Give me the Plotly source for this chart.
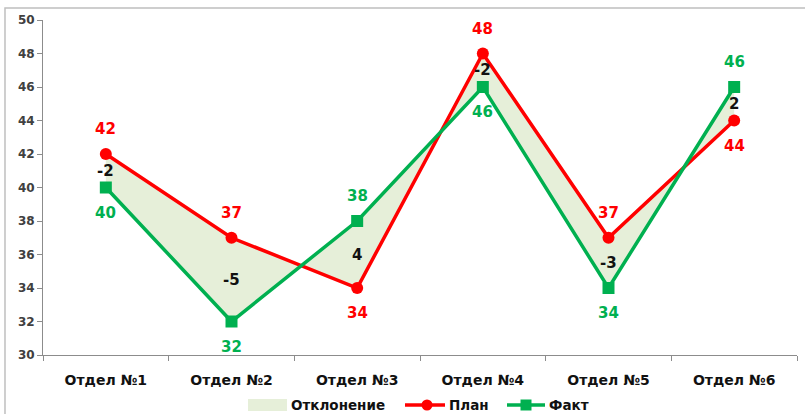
import plotly.graph_objects as go

categories = ["Отдел №1", "Отдел №2", "Отдел №3", "Отдел №4", "Отдел №5", "Отдел №6"]
plan = [42, 37, 34, 48, 37, 44]
fact = [40, 32, 38, 46, 34, 46]
legend_names = ["Отклонение", "План", "Факт"]

RED = "#FF0000"
GREEN = "#00B050"
FILL = "#E6EFD9"
FONT = "DejaVu Sans"

# plot area in pixels
L, R, T, B = 43, 797, 20, 355
W, H = 805, 414


def px(x):
    return (x - L) / (R - L)


def py(y):
    return (B - y) / (B - T)


fig = go.Figure()
fig.add_trace(go.Scatter(x=categories, y=fact, mode="lines", line=dict(width=0),
                         showlegend=False, hoverinfo="skip"))
fig.add_trace(go.Scatter(x=categories, y=plan, mode="lines", line=dict(width=0),
                         fill="tonexty", fillcolor=FILL, name=legend_names[0],
                         showlegend=False))
fig.add_trace(go.Scatter(x=categories, y=plan, mode="lines+markers", name=legend_names[1],
                         line=dict(color=RED, width=3.5), showlegend=False,
                         marker=dict(symbol="circle", size=12, color=RED)))
fig.add_trace(go.Scatter(x=categories, y=fact, mode="lines+markers", name=legend_names[2],
                         line=dict(color=GREEN, width=3.5), showlegend=False,
                         marker=dict(symbol="square", size=12, color=GREEN)))

annotations = []
for c, p, f in zip(categories, plan, fact):
    up = p >= f
    annotations.append(dict(x=c, y=p, text=str(p), showarrow=False,
                            yshift=25 if up else -25,
                            font=dict(family=FONT, size=15, color=RED, weight="bold")))
    annotations.append(dict(x=c, y=f, text=str(f), showarrow=False,
                            yshift=-25 if up else 25,
                            font=dict(family=FONT, size=15, color=GREEN, weight="bold")))
    annotations.append(dict(x=c, y=(p + f) / 2, text=str(f - p), showarrow=False,
                            font=dict(family=FONT, size=15, color="#111111", weight="bold")))

# manual legend
LEG_Y = 405
legend_font = dict(family=FONT, size=13.5, color="#111111", weight="bold")
shapes = [dict(type="rect", xref="paper", yref="paper",
               x0=-0.0504, x1=1.02, y0=-0.2, y1=1.0358,
               line=dict(color="#BFBFBF", width=1.5), fillcolor="rgba(0,0,0,0)")]
shapes.append(dict(type="rect", xref="paper", yref="paper",
                   x0=px(248), x1=px(287), y0=py(411), y1=py(399),
                   line=dict(width=0), fillcolor=FILL))
annotations.append(dict(xref="paper", yref="paper", x=px(289), y=py(LEG_Y),
                        xanchor="left", yanchor="middle", showarrow=False,
                        text=legend_names[0], font=legend_font))
# plan item
shapes.append(dict(type="line", xref="paper", yref="paper",
                   x0=px(405), x1=px(445), y0=py(LEG_Y), y1=py(LEG_Y),
                   line=dict(color=RED, width=3.5)))
shapes.append(dict(type="circle", xref="paper", yref="paper",
                   x0=px(427 - 5.5), x1=px(427 + 5.5), y0=py(LEG_Y + 5.5), y1=py(LEG_Y - 5.5),
                   line=dict(width=0), fillcolor=RED))
annotations.append(dict(xref="paper", yref="paper", x=px(447), y=py(LEG_Y),
                        xanchor="left", yanchor="middle", showarrow=False,
                        text=legend_names[1], font=legend_font))
# fact item
shapes.append(dict(type="line", xref="paper", yref="paper",
                   x0=px(507), x1=px(545), y0=py(LEG_Y), y1=py(LEG_Y),
                   line=dict(color=GREEN, width=3.5)))
shapes.append(dict(type="rect", xref="paper", yref="paper",
                   x0=px(526 - 5.5), x1=px(526 + 5.5), y0=py(LEG_Y + 5.5), y1=py(LEG_Y - 5.5),
                   line=dict(width=0), fillcolor=GREEN))
annotations.append(dict(xref="paper", yref="paper", x=px(547), y=py(LEG_Y),
                        xanchor="left", yanchor="middle", showarrow=False,
                        text=legend_names[2], font=legend_font))

fig.update_layout(
    width=W, height=H,
    margin=dict(l=L, r=W - R, t=T, b=H - B, autoexpand=False),
    paper_bgcolor="white", plot_bgcolor="white",
    font=dict(family=FONT),
    annotations=annotations,
    shapes=shapes,
    showlegend=False,
    hovermode=False,
    xaxis=dict(type="category", range=[-0.5, 5.5], showline=True, linecolor="#8C8C8C",
               linewidth=1, ticks="outside", tickson="boundaries", ticklen=5,
               tickcolor="#8C8C8C", showgrid=False, zeroline=False, automargin=False,
               ticklabelstandoff=12,
               tickfont=dict(family=FONT, size=14, color="#111111", weight="bold")),
    yaxis=dict(range=[30, 50], dtick=2, showline=True, linecolor="#8C8C8C", linewidth=1,
               ticks="outside", ticklen=5, tickcolor="#8C8C8C", showgrid=False,
               zeroline=False, automargin=False,
               tickfont=dict(family=FONT, size=12, color="#404040", weight="bold")),
)

fig.write_html("out.html", config={"displayModeBar": False},
               post_script="document.body.style.margin='0';document.body.style.overflow='hidden';")
